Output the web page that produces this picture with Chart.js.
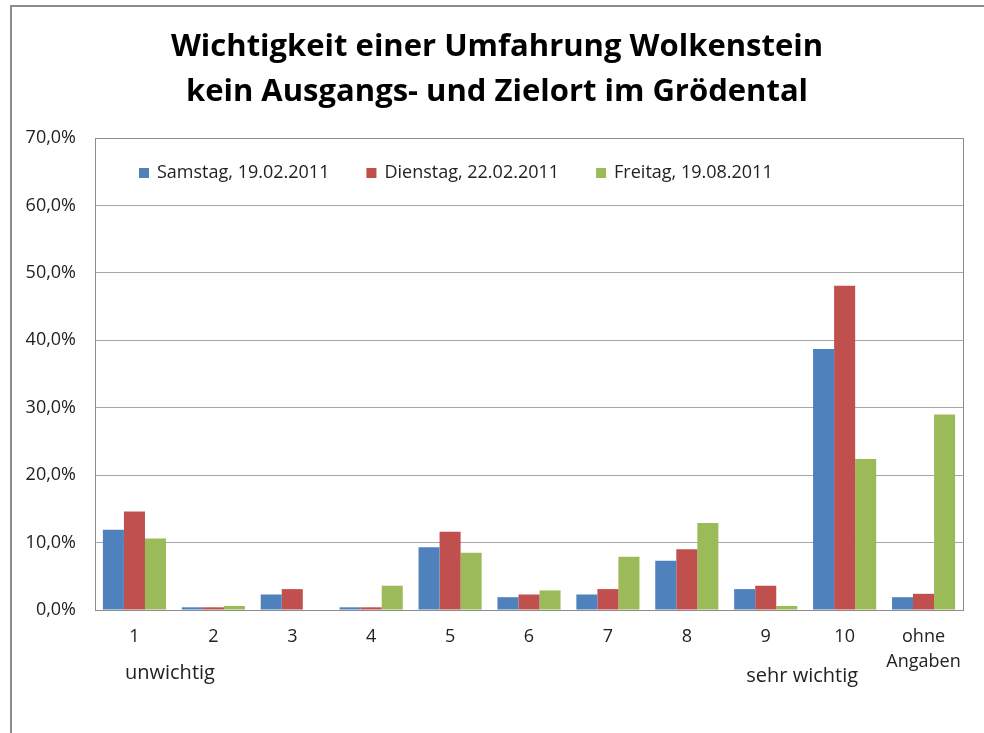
<!DOCTYPE html>
<html><head><meta charset="utf-8">
<script src="https://cdn.jsdelivr.net/npm/chart.js@4.4.0/dist/chart.umd.min.js"></script>
<style>html,body{margin:0;padding:0;background:#fff;} #wrap{width:984px;height:733px;position:relative;}</style>
</head><body><div id="wrap"><canvas id="c" width="984" height="733"></canvas></div>
<script>
const titleLines = ['Wichtigkeit einer Umfahrung Wolkenstein', 'kein Ausgangs- und Zielort im Grödental'];
const categories = ['1','2','3','4','5','6','7','8','9','10',['ohne','Angaben']];
const seriesNames = ['Samstag, 19.02.2011','Dienstag, 22.02.2011','Freitag, 19.08.2011'];
const samstag  = [11.9, 0.4, 2.3, 0.4,  9.3, 1.9, 2.3,  7.3, 3.1, 38.7,  1.9];
const dienstag = [14.6, 0.4, 3.1, 0.4, 11.6, 2.3, 3.1,  9.0, 3.6, 48.1,  2.4];
const freitag  = [10.6, 0.6, 0.0, 3.6,  8.5, 2.9, 7.9, 12.9, 0.6, 22.4, 29.0];
const yTicks = [0, 10, 20, 30, 40, 50, 60, 70];
const scaleNotes = ['unwichtig', 'sehr wichtig'];

const colors = ['#4F81BD', '#C0504D', '#9BBB59'];
const FONT = 'Open Sans';
const TEXT = '#222222';
const GRID = '#a6a6a6';

const decorPlugin = {
  id: 'decor',
  beforeDraw(chart) {
    const c = chart.ctx;
    c.save();
    c.fillStyle = '#fff';
    c.fillRect(0, 0, chart.width, chart.height);
    c.strokeStyle = '#8c8c8c';
    c.lineWidth = 2;
    c.beginPath();
    c.moveTo(11, chart.height);
    c.lineTo(11, 6);
    c.lineTo(chart.width, 6);
    c.stroke();
    // title
    c.fillStyle = '#000';
    c.font = 'bold 31px "' + FONT + '"';
    c.textAlign = 'center';
    c.textBaseline = 'middle';
    c.fillText(titleLines[0], 497, 47);
    c.fillText(titleLines[1], 497, 92);
    c.restore();
  },
  afterDatasetsDraw(chart) {
    const c = chart.ctx;
    const a = chart.chartArea;
    c.save();
    c.strokeStyle = '#8c8c8c';
    c.lineWidth = 1;
    c.strokeRect(Math.round(a.left) + 0.5, Math.round(a.top) + 0.5, Math.round(a.right - a.left), Math.round(a.bottom - a.top));
    c.restore();
  },
  afterDraw(chart) {
    const c = chart.ctx;
    const xs = chart.scales.x;
    c.save();
    // legend inside plot area
    c.font = '18px "' + FONT + '"';
    c.textBaseline = 'middle';
    c.textAlign = 'left';
    let x = 139;
    chart.data.datasets.forEach(ds => {
      c.fillStyle = ds.backgroundColor;
      c.fillRect(x, 168, 10, 10);
      c.fillStyle = TEXT;
      c.fillText(ds.label, x + 18, 173);
      x += 18 + c.measureText(ds.label).width + 37;
    });
    // scale notes
    c.font = '20px "' + FONT + '"';
    c.fillText(scaleNotes[0], xs.getPixelForValue(0) - 9.5, 673);
    c.textAlign = 'center';
    c.fillText(scaleNotes[1], (xs.getPixelForValue(8) + xs.getPixelForValue(9)) / 2 - 3, 676);
    c.restore();
  }
};

new Chart(document.getElementById('c'), {
  type: 'bar',
  data: {
    labels: categories,
    datasets: [
      { label: seriesNames[0], data: samstag, backgroundColor: colors[0] },
      { label: seriesNames[1], data: dienstag, backgroundColor: colors[1] },
      { label: seriesNames[2], data: freitag, backgroundColor: colors[2] }
    ]
  },
  options: {
    responsive: false,
    animation: false,
    devicePixelRatio: 1,
    layout: { padding: { left: 15, right: 21, top: 138, bottom: 0 } },
    datasets: { bar: { categoryPercentage: 0.8, barPercentage: 1.0 } },
    plugins: {
      title: { display: false },
      legend: { display: false },
      tooltip: { enabled: false }
    },
    scales: {
      x: {
        grid: { display: false, drawTicks: false },
        border: { display: false },
        ticks: {
          color: TEXT, padding: 14.5, autoSkip: false, maxRotation: 0,
          font: { family: FONT, size: 18, lineHeight: 25 / 18 }
        },
        afterFit(s) { s.height = 123; }
      },
      y: {
        min: 0, max: 70,
        grid: { color: GRID, lineWidth: 1, drawTicks: false },
        border: { display: false },
        ticks: {
          color: TEXT, padding: 19,
          font: { family: FONT, size: 18 },
          callback: v => v.toFixed(1).replace('.', ',') + '%'
        },
        afterBuildTicks(s) { s.ticks = yTicks.map(v => ({ value: v })); },
        afterFit(s) { s.width = 80; }
      }
    }
  },
  plugins: [decorPlugin]
});
</script>
</body></html>
